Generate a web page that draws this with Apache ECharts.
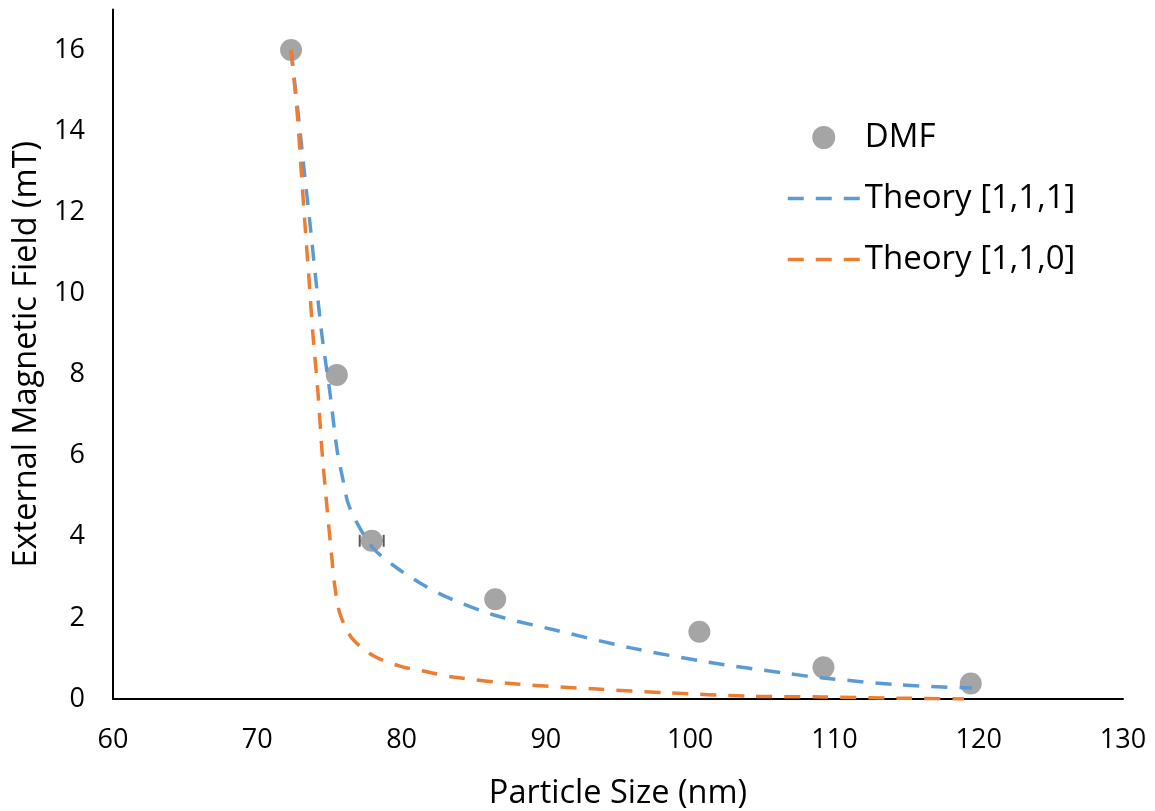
<!DOCTYPE html>
<html>
<head>
<meta charset="utf-8">
<script src="https://cdn.jsdelivr.net/npm/echarts@6/dist/echarts.min.js"></script>
<style>
html,body{margin:0;padding:0;background:#fff;}
#chart{width:1155px;height:811px;}
</style>
</head>
<body>
<div id="chart"></div>
<script>
// DMF measurements: particle size (nm), field (mT), horizontal error (nm)
const dmfX = [72.34, 75.51, 77.93, 86.49, 100.64, 109.24, 119.45];
const dmfY = [16.0, 7.99, 3.9, 2.46, 1.66, 0.78, 0.38];
const dmfErrX = [0, 0, 0.83, 0, 0, 0, 0];

// Theory [1,1,1]
const t111X = [72.34, 72.82, 73.23, 73.65, 74.06, 74.48, 75.04, 75.53, 75.94, 76.29, 76.91, 78.02, 79.68, 81.28, 83.15, 86.40, 90.63, 95.89, 101.23, 106.50, 109.21, 114.47, 119.53];
const t111Y = [16.0, 14.47, 13.09, 11.73, 10.33, 8.97, 7.54, 6.14, 5.40, 4.83, 4.34, 3.72, 3.23, 2.86, 2.51, 2.07, 1.70, 1.26, 0.91, 0.64, 0.52, 0.35, 0.27];

// Theory [1,1,0]
const t110X = [72.34, 72.76, 73.03, 73.30, 73.59, 73.86, 74.21, 74.48, 74.83, 75.18, 75.38, 75.73, 76.56, 78.08, 79.89, 81.76, 83.56, 88.00, 93.26, 98.60, 103.87, 109.21, 114.47, 118.98];
const t110Y = [16.0, 14.47, 13.09, 11.73, 10.33, 8.97, 7.54, 6.14, 4.73, 3.43, 2.76, 2.10, 1.50, 1.06, 0.81, 0.67, 0.54, 0.37, 0.25, 0.15, 0.07, 0.05, 0.02, 0.0];

const seriesNames = ['DMF', 'Theory [1,1,1]', 'Theory [1,1,0]'];
const xTitle = 'Particle Size (nm)';
const yTitle = 'External Magnetic Field (mT)';

const GREY = '#A5A5A5', BLUE = '#5B9BD5', ORANGE = '#ED7D31';
const DASH = [16, 12];

const zip = (a, b) => a.map((v, i) => [v, b[i]]);
const errData = dmfX.map((x, i) => [x, dmfY[i], dmfErrX[i]]).filter(d => d[2] > 0);

const FONT = '"Open Sans", "Noto Sans", sans-serif';
const chart = echarts.init(document.getElementById('chart'), null, {renderer: 'canvas'});
chart.setOption({
  animation: false,
  backgroundColor: '#ffffff',
  grid: {left: 113, right: 32, top: 9.4, bottom: 112, containLabel: false, outerBoundsMode: 'none'},
  xAxis: {
    type: 'value', min: 60, max: 130, interval: 10,
    name: xTitle, nameLocation: 'middle', nameGap: 78,
    nameTextStyle: {fontFamily: FONT, fontSize: 32.5, color: '#000'},
    axisLine: {show: true, onZero: false, lineStyle: {color: '#000', width: 2}},
    axisTick: {show: false},
    splitLine: {show: false},
    axisLabel: {fontFamily: FONT, fontSize: 27, color: '#000', margin: 28}
  },
  yAxis: {
    type: 'value', min: 0, max: 17, interval: 2,
    name: yTitle, nameLocation: 'middle', nameGap: 69,
    nameTextStyle: {fontFamily: FONT, fontSize: 32.5, color: '#000'},
    axisLine: {show: true, lineStyle: {color: '#000', width: 2}},
    axisTick: {show: false},
    splitLine: {show: false},
    axisLabel: {fontFamily: FONT, fontSize: 27, color: '#000', margin: 28, showMaxLabel: false}
  },
  legend: {
    orient: 'vertical', left: 781, top: 116,
    itemWidth: 72, itemHeight: 23, itemGap: 28,
    data: [
      {name: seriesNames[0], icon: 'circle', itemStyle: {color: GREY, opacity: 1}},
      {name: seriesNames[1], itemStyle: {color: 'rgba(0,0,0,0)', borderWidth: 0, opacity: 0},
        lineStyle: {color: BLUE, width: 3.5, type: DASH}},
      {name: seriesNames[2], itemStyle: {color: 'rgba(0,0,0,0)', borderWidth: 0, opacity: 0},
        lineStyle: {color: ORANGE, width: 3.5, type: DASH}}
    ],
    textStyle: {fontFamily: FONT, fontSize: 33, lineHeight: 33, color: '#000', padding: [0, 0, 0, 0]}
  },
  series: [
    {
      type: 'custom', name: 'err', z: 1, silent: true,
      data: errData,
      renderItem: function (params, api) {
        const x = api.value(0), y = api.value(1), e = api.value(2);
        const p1 = api.coord([x - e, y]);
        const p2 = api.coord([x + e, y]);
        const h = 6;
        const style = {stroke: '#595959', lineWidth: 2};
        return {
          type: 'group',
          children: [
            {type: 'line', shape: {x1: p1[0], y1: p1[1], x2: p2[0], y2: p2[1]}, style: style},
            {type: 'line', shape: {x1: p1[0], y1: p1[1] - h, x2: p1[0], y2: p1[1] + h}, style: style},
            {type: 'line', shape: {x1: p2[0], y1: p2[1] - h, x2: p2[0], y2: p2[1] + h}, style: style}
          ]
        };
      }
    },
    {
      type: 'scatter', name: seriesNames[0], z: 2,
      data: zip(dmfX, dmfY),
      symbol: 'circle', symbolSize: 22,
      itemStyle: {color: GREY, opacity: 1}
    },
    {
      type: 'line', name: seriesNames[1], z: 3,
      data: zip(t111X, t111Y),
      symbol: 'none', showSymbol: false,
      smooth: 0.3,
      lineStyle: {color: BLUE, width: 3.5, type: DASH},
      itemStyle: {color: BLUE}
    },
    {
      type: 'line', name: seriesNames[2], z: 3,
      data: zip(t110X, t110Y),
      symbol: 'none', showSymbol: false,
      smooth: 0.3,
      lineStyle: {color: ORANGE, width: 3.5, type: DASH},
      itemStyle: {color: ORANGE}
    }
  ]
});
</script>
</body>
</html>
